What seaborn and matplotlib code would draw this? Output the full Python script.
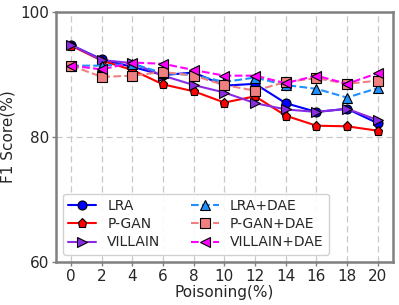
import matplotlib
matplotlib.use("Agg")
import matplotlib.pyplot as plt
import seaborn as sns
import pandas as pd

poisoning = [0, 2, 4, 6, 8, 10, 12, 14, 16, 18, 20]
lra = [94.7, 92.4, 91.2, 89.9, 90.3, 88.2, 88.5, 85.4, 84.0, 84.5, 82.2]
pgan = [94.6, 92.2, 90.7, 88.4, 87.3, 85.5, 86.5, 83.4, 81.8, 81.7, 81.0]
villain = [94.7, 92.3, 91.8, 89.8, 88.3, 87.1, 85.4, 84.4, 84.0, 84.5, 82.7]
lra_dae = [91.4, 91.4, 91.7, 90.2, 89.9, 88.8, 89.5, 88.3, 87.7, 86.3, 87.8]
pgan_dae = [91.4, 89.6, 89.8, 90.4, 89.8, 88.3, 87.4, 88.8, 89.4, 88.5, 89.0]
villain_dae = [91.4, 90.8, 91.9, 91.7, 90.7, 89.8, 89.8, 88.6, 89.8, 88.5, 90.2]

series = [
    ("LRA", lra, "blue", "o", "-"),
    ("P-GAN", pgan, "red", "p", "-"),
    ("VILLAIN", villain, "blueviolet", ">", "-"),
    ("LRA+DAE", lra_dae, "dodgerblue", "^", "--"),
    ("P-GAN+DAE", pgan_dae, "lightcoral", "s", "--"),
    ("VILLAIN+DAE", villain_dae, "magenta", "<", "--"),
]

sns.set_style("white")
plt.rcParams['font.family'] = ['DejaVu Sans']
fig, ax = plt.subplots(figsize=(3.99, 3.05), dpi=100)
fig.subplots_adjust(left=0.14, right=0.985, top=0.961, bottom=0.141)

for name, vals, color, marker, ls in series:
    df = pd.DataFrame({"x": poisoning, "y": vals})
    sns.lineplot(data=df, x="x", y="y", ax=ax, color=color, marker=marker,
                 linestyle=ls, label=name, markersize=6.5, markeredgecolor="black",
                 markeredgewidth=0.8, linewidth=1.5)

ax.set_xlim(-1, 21)
ax.set_ylim(60, 100)
ax.set_xticks(poisoning)
ax.set_yticks([60, 80, 100])
ax.tick_params(axis='both', labelsize=11, length=3, width=1, color="gray",
               left=True, bottom=True, pad=2)
ax.set_xlabel("Poisoning(%)", fontsize=11, labelpad=1)
ax.set_ylabel("F1 Score(%)", fontsize=11, labelpad=3)
ax.grid(True, linestyle=(0, (5, 3)), color="#c8c8c8", linewidth=0.9)
for s in ax.spines.values():
    s.set_color("gray")
    s.set_linewidth(1.8)
ax.legend(loc="lower left", ncol=2, fontsize=10, framealpha=0.9,
          handlelength=2.0, columnspacing=2.2, labelspacing=0.3, borderpad=0.4,
          bbox_to_anchor=(0.0, 0.0))
fig.savefig("out.png", dpi=100)
